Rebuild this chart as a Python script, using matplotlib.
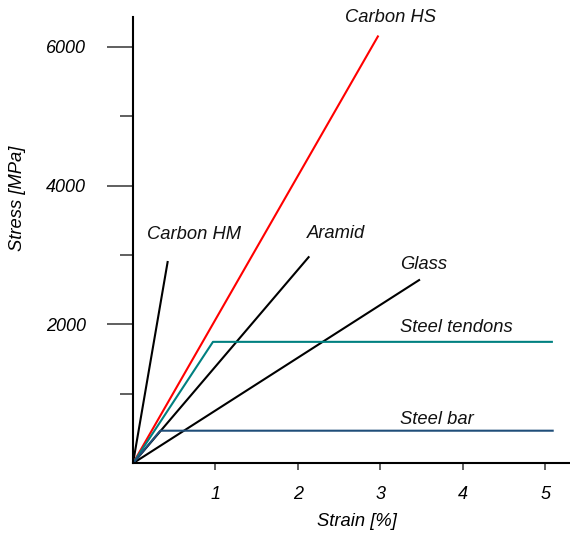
import matplotlib.pyplot as plt
from matplotlib.ticker import FixedLocator

plt.rcParams['font.family'] = ['Liberation Sans', 'DejaVu Sans']
plt.rcParams['font.style'] = 'italic'

# strain [%] / stress [MPa]
carbon_hm_x = [0, 0.42]
carbon_hm_y = [0, 2900]
carbon_hs_x = [0, 2.97]
carbon_hs_y = [0, 6150]
aramid_x = [0, 2.13]
aramid_y = [0, 2970]
glass_x = [0, 3.47]
glass_y = [0, 2640]
tendons_x = [0, 0.97, 5.08]
tendons_y = [0, 1750, 1750]
bar_x = [0, 0.33, 5.09]
bar_y = [0, 470, 470]

labels = ["Carbon HM", "Carbon HS", "Aramid", "Glass", "Steel tendons", "Steel bar"]
label_pos = [(0.17, 3290), (2.57, 6420), (2.11, 3304), (3.24, 2860), (3.24, 1960), (3.24, 629)]

fig = plt.figure(figsize=(5.7, 5.38), dpi=100)
ax = fig.add_axes([0.2333, 0.1388, 0.7667, 0.8296])

ax.plot(carbon_hm_x, carbon_hm_y, color='black', lw=1.5)
ax.plot(carbon_hs_x, carbon_hs_y, color='#ff0000', lw=1.5)
ax.plot(aramid_x, aramid_y, color='black', lw=1.5)
ax.plot(glass_x, glass_y, color='black', lw=1.5)
ax.plot(tendons_x, tendons_y, color='#008080', lw=1.5)
ax.plot(bar_x, bar_y, color='#1f4e79', lw=1.5)

for txt, (x, y) in zip(labels, label_pos):
    ax.text(x, y, txt, ha='left', va='center', fontsize=13.2, color='#111111')

ax.set_xlim(0, 5.3)
ax.set_ylim(0, 6430)
ax.spines['top'].set_visible(False)
ax.spines['right'].set_visible(False)
ax.spines['left'].set_linewidth(1.5)
ax.spines['bottom'].set_linewidth(1.5)

ax.xaxis.set_major_locator(FixedLocator([1, 2, 3, 4, 5]))
ax.yaxis.set_major_locator(FixedLocator([2000, 4000, 6000]))
ax.yaxis.set_minor_locator(FixedLocator([1000, 3000, 5000]))
ax.tick_params(axis='x', which='major', length=5, width=1.2, color='#444444',
               pad=11, labelsize=13)
ax.tick_params(axis='y', which='major', length=19, width=1.2, color='#444444',
               pad=15, labelsize=13)
ax.tick_params(axis='y', which='minor', length=9.5, width=1.2, color='#444444')

ax.set_xlabel("Strain [%]", fontsize=13.2)
ax.set_ylabel("Stress [MPa]", fontsize=13.2)
ax.xaxis.set_label_coords(0.513, -0.112)
ax.yaxis.set_label_coords(-0.245, 0.594)

fig.savefig("out.png", dpi=100)
